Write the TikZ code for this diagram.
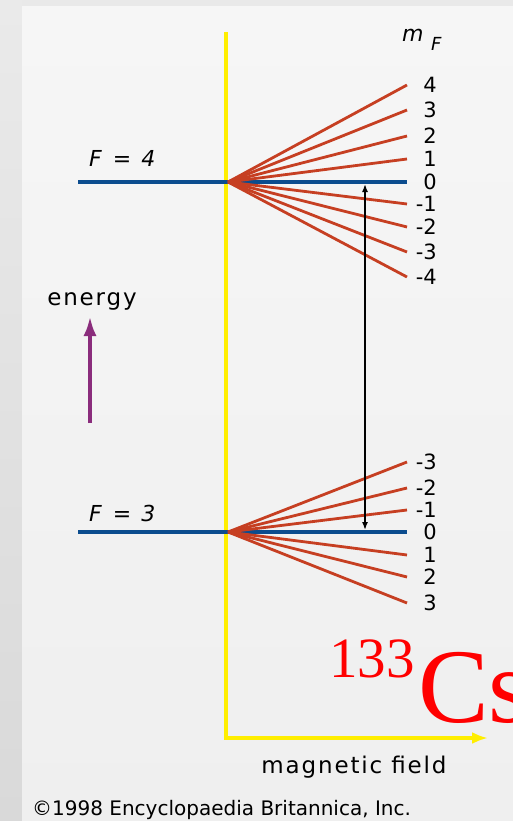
\documentclass[tikz,border=0pt]{standalone}
\usepackage{fontspec}
\usetikzlibrary{arrows.meta}
\newfontfamily\pixA[LetterSpace=8]{DejaVu Sans}
\newfontfamily\pixB{DejaVu Sans}
\newfontfamily\tms{Liberation Serif}
\definecolor{lvl}{HTML}{0B4C8E}
\definecolor{fan}{HTML}{C63F22}
\definecolor{yel}{HTML}{FFEE00}
\definecolor{pur}{HTML}{8A2C7C}
\definecolor{csred}{HTML}{FF0000}
\begin{document}
\begin{tikzpicture}[x=1pt,y=-1pt,
  level/.style={draw=lvl,line width=4pt},
  fanline/.style={draw=fan,line width=2.8pt},
  axis/.style={draw=yel,line width=4.5pt},
  mlab/.style={anchor=east,inner sep=0pt,font=\pixB\fontsize{21}{21}\selectfont},
  flab/.style={anchor=base west,inner sep=0pt,font=\pixB\fontsize{22}{22}\selectfont},
  txt/.style={inner sep=0pt,font=\pixA\fontsize{23}{23}\selectfont}]
\useasboundingbox (0,0) rectangle (513,821);
\begin{scope}
\clip (0,0) rectangle (513,821);
% background
\fill[color={rgb,255:red,233;green,233;blue,233}] (0,0) rectangle (513,821);
\shade[top color={rgb,255:red,234;green,234;blue,234},bottom color={rgb,255:red,217;green,217;blue,217}] (0,0) rectangle (22,821);
\shade[top color={rgb,255:red,246;green,246;blue,246},bottom color={rgb,255:red,239;green,239;blue,239}] (22,7) rectangle (513,821);

% axes
\coordinate (ytop) at (226,32);
\coordinate (yor) at (226,738);
\coordinate (xend) at (488,738);
\draw[axis,line join=miter,-{Latex[length=16pt,width=12pt]}] (ytop) -- (yor) -- (xend);

% levels
\coordinate (l4a) at (78,182);
\coordinate (l4b) at (407,182);
\coordinate (o4) at (228,182);
\coordinate (l3a) at (78,532);
\coordinate (l3b) at (407,532);
\coordinate (o3) at (228,532);
\draw[level] (l4a) -- (l4b);
\draw[level] (l3a) -- (l3b);

% F=4 fan
\foreach \m/\y [count=\i] in {4/85,3/110,2/136,1/159,0/182,-1/204,-2/227,-3/252,-4/277}{
  \coordinate (e4\i) at (407,\y);
  \node[mlab] (t4\i) at (437,\y) {\m};
  \ifnum\m=0\else\draw[fanline] (o4) -- (e4\i);\fi
}
% F=3 fan
\foreach \m/\y [count=\i] in {-3/462,-2/488,-1/510,0/532,1/555,2/577,3/603}{
  \coordinate (e3\i) at (407,\y);
  \node[mlab] (t3\i) at (437,\y) {\m};
  \ifnum\m=0\else\draw[fanline] (o3) -- (e3\i);\fi
}

% transition arrow
\coordinate (ta) at (365,184);
\coordinate (tb) at (365,530);
\draw[line width=1.5pt,{Latex[length=8pt,width=6pt]}-{Latex[length=8pt,width=6pt]}] (ta) -- (tb);

% energy arrow
\coordinate (ea) at (90,423);
\coordinate (eb) at (90,316);
\draw[draw=pur,line width=4pt,-{Latex[length=20pt,width=13pt]}] (ea) -- (eb);

% labels
\node[flab] (F4) at (89,167) {\itshape F\hspace{11pt}=\hspace{10pt}4};
\node[flab] (F3) at (89,521) {\itshape F\hspace{11pt}=\hspace{10pt}3};
\node[anchor=base west,inner sep=0pt,font=\pixB\fontsize{22}{22}\selectfont] (mF) at (402,42) {\itshape m};
\node[anchor=base west,inner sep=0pt,font=\pixB\fontsize{18}{18}\selectfont] (mFs) at (431,51) {\itshape F};
\node[txt,anchor=base] (en) at (92,305) {energy};
\node[txt,anchor=base] (mag) at (354,773) {magnetic field};
\node[anchor=base west,inner sep=0pt,font=\pixB\fontsize{20}{20}\selectfont] (copy) at (32,815) {©1998 Encyclopaedia Britannica, Inc.};

% Cs label
\node[anchor=base west,inner sep=0pt,text=csred,font=\tms\fontsize{57}{57}\selectfont] (n133) at (329,677) {133};
\node[anchor=base west,inner sep=0pt,text=csred,font=\tms\fontsize{106}{106}\selectfont] (cs) at (418,722) {Cs};
\end{scope}
\end{tikzpicture}
\end{document}
